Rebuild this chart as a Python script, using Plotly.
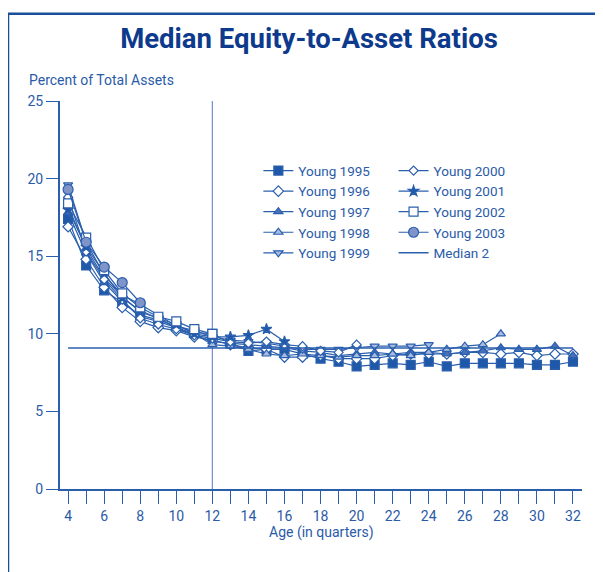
import plotly.graph_objects as go

ages = list(range(4, 33))
age_ticktext = [str(a) if a % 2 == 0 else "" for a in ages]

young_1995 = [17.4, 14.4, 12.8, 12.0, 11.2, 10.9, 10.5, 10.1, 10.0, 9.4, 8.9, 9.0, 9.0, 8.7, 8.4, 8.2, 7.9, 8.0, 8.1, 8.0, 8.2, 7.9, 8.1, 8.1, 8.1, 8.1, 8.0, 8.0, 8.2]
young_1996 = [16.9, 14.8, 13.0, 11.7, 10.8, 10.4, 10.2, 9.8, 9.6, 9.3, 9.1, 9.0, 8.5, 8.5, 8.6, 8.4, 8.4, 8.4, 8.6, 8.7, 8.7, 8.7, 8.8, 8.8, 8.7, 8.8, 8.6, 8.7, 8.7]
young_1997 = [17.8, 15.2, 13.3, 12.1, 11.1, 10.8, 10.4, 9.9, 9.5, 9.4, 9.3, 9.2, 9.1, 8.9, 8.8, 8.6, 8.7, 8.8, 8.7, 8.8, 8.8, 8.7, 8.8, 8.9, 9.1, 9.0, 9.0, 9.2, 8.6]
young_1998 = [18.2, 15.5, 13.6, 12.4, 11.4, 11.0, 10.4, 10.0, 9.3, 9.2, 9.0, 8.7, 8.6, 8.7, 8.6, 8.5, 8.6, 8.6, 8.7, 8.6, 8.8, 9.0, 9.2, 9.3, 10.0]
young_1999 = [19.6, 15.9, 13.8, 12.5, 11.9, 11.2, 10.5, 10.2, 9.8, 9.6, 9.5, 9.4, 9.2, 9.0, 9.0, 9.0, 9.1, 9.2, 9.2, 9.2, 9.3]
young_2000 = [18.8, 15.3, 13.5, 12.2, 11.0, 10.6, 10.3, 9.9, 9.7, 9.5, 9.4, 9.5, 9.3, 9.2, 8.9, 8.8, 9.3]
young_2001 = [18.0, 15.6, 13.9, 12.3, 11.5, 11.0, 10.6, 10.0, 9.8, 9.8, 9.9, 10.3, 9.5]
young_2002 = [18.4, 16.2, 14.1, 12.6, 11.7, 11.1, 10.8, 10.3, 10.0]
young_2003 = [19.3, 15.9, 14.3, 13.3, 12.0]
median_2 = 9.08

series = [
    ("Young 1995", young_1995, "square", 9, "#1f58a8", "legend", 1),
    ("Young 1996", young_1996, "diamond", 8, "#ffffff", "legend", 2),
    ("Young 1997", young_1997, "triangle-up", 8, "#4a70b8", "legend", 3),
    ("Young 1998", young_1998, "triangle-up", 8, "#a9badf", "legend", 4),
    ("Young 1999", young_1999, "triangle-down", 8, "#a9badf", "legend", 5),
    ("Young 2000", young_2000, "diamond", 7, "#ffffff", "legend2", 6),
    ("Young 2001", young_2001, "star", 8, "#1f58a8", "legend2", 7),
    ("Young 2002", young_2002, "square", 9, "#ffffff", "legend2", 8),
    ("Young 2003", young_2003, "circle", 10, "#7f94c8", "legend2", 9),
]

LINE = "#2a5fae"
TEXT = "#2a5ba8"
FONT = "Roboto, Arial"
TITLE_FONT = "Roboto, Arial"

W, H = 595, 564   # page body has an 8px margin

fig = go.Figure()
for name, vals, sym, size, fill, leg, rank in series:
    fig.add_trace(go.Scatter(
        x=ages[:len(vals)], y=vals, mode="lines+markers", name=name,
        line=dict(color=LINE, width=1.2),
        marker=dict(symbol=sym, size=size, color=fill, line=dict(color=LINE, width=1.2)),
        legend=leg, legendrank=rank,
    ))

fig.add_trace(go.Scatter(
    x=[ages[0], ages[-1]], y=[median_2, median_2], mode="lines", name="Median 2",
    line=dict(color=LINE, width=1.5), legend="legend2", legendrank=10,
))

fig.add_shape(type="line", xref="x", yref="y", x0=12, x1=12, y0=0, y1=25,
              line=dict(color="#6f8fcc", width=1.2), layer="below")

# frame (left and top edges)
fig.add_shape(type="path", xref="paper", yref="paper",
              path="M -0.0996 -0.3 L -0.0996 1.225 L 1.2 1.225",
              line=dict(color="#1a4f9c", width=2.5))

fig.add_annotation(text="Percent of Total Assets", xref="paper", yref="paper",
                   x=-0.063, y=1.054, xanchor="left", yanchor="middle", showarrow=False,
                   font=dict(size=14, color=TEXT, family=FONT))
fig.add_annotation(text="Age (in quarters)", xref="paper", yref="paper",
                   x=0.5, y=-0.113, xanchor="center", yanchor="middle", showarrow=False,
                   font=dict(size=14, color=TEXT, family=FONT))

fig.update_layout(
    width=W, height=H,
    margin=dict(l=52, r=21, t=93, b=83),
    paper_bgcolor="white", plot_bgcolor="white",
    font=dict(family=FONT, size=14, color=TEXT),
    title=dict(text="<b>Median Equity-to-Asset Ratios</b>", x=(309 - 8) / W, xanchor="center",
               y=1 - 30 / H, yanchor="middle",
               font=dict(size=27.5, color="#0d3a8c", family=TITLE_FONT)),
    showlegend=True,
    legend=dict(x=0.38, y=0.86, xanchor="left", yanchor="top", bgcolor="rgba(0,0,0,0)",
                font=dict(size=13.5, color=TEXT, family=FONT), tracegroupgap=0),
    legend2=dict(x=0.639, y=0.86, xanchor="left", yanchor="top", bgcolor="rgba(0,0,0,0)",
                 font=dict(size=13.5, color=TEXT, family=FONT), tracegroupgap=0),
    xaxis=dict(range=[3.55, 32.5], tickvals=ages, ticktext=age_ticktext,
               ticks="outside", ticklen=13, tickcolor=LINE, tickwidth=1.2,
               showline=True, linecolor=LINE, linewidth=2, showgrid=False, zeroline=False,
               tickfont=dict(size=14, color=TEXT, family=FONT)),
    yaxis=dict(range=[0, 25], tickvals=[0, 5, 10, 15, 20, 25],
               ticks="outside", ticklen=12, tickcolor=LINE, tickwidth=1.2,
               showline=True, linecolor=LINE, linewidth=2, showgrid=False, zeroline=False,
               tickfont=dict(size=14, color=TEXT, family=FONT)),
)

fig.write_html("out.html")
